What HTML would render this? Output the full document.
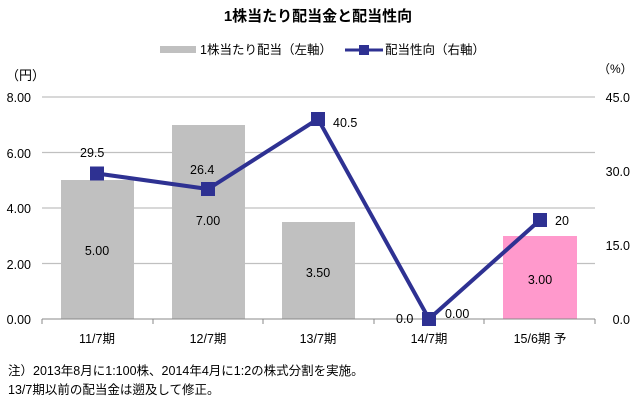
<!DOCTYPE html>
<html><head><meta charset="utf-8"><style>
body{margin:0;background:#fff;}
svg text{font-family:"Liberation Sans","Noto Sans CJK JP",sans-serif;fill:#000;}
</style></head><body>
<svg width="635" height="402" xmlns="http://www.w3.org/2000/svg">
<text x="318" y="21" font-size="15" font-weight="bold" text-anchor="middle">1株当たり配当金と配当性向</text>
<rect x="160" y="46" width="36" height="7" fill="#c0c0c0"/>
<text x="200" y="54" font-size="12.5">1株当たり配当（左軸）</text>
<line x1="345" y1="50" x2="383" y2="50" stroke="#2e3192" stroke-width="3"/>
<rect x="359" y="45" width="10" height="10" fill="#2e3192"/>
<text x="385" y="54" font-size="12.5">配当性向（右軸）</text>
<text x="6" y="80" font-size="13">（円）</text>
<text x="598" y="73" font-size="12">（%）</text>
<g stroke="#c0c0c0" stroke-width="1.3">
<line x1="42" y1="97" x2="595" y2="97"/><line x1="42" y1="152.5" x2="595" y2="152.5"/>
<line x1="42" y1="208" x2="595" y2="208"/><line x1="42" y1="263.5" x2="595" y2="263.5"/>
</g>
<g fill="#c0c0c0">
<rect x="61" y="180" width="73" height="139"/><rect x="172" y="125" width="73" height="194"/>
<rect x="282" y="222" width="73" height="97"/></g>
<rect x="503" y="236" width="74" height="83" fill="#ff99cc"/>
<g stroke="#888" stroke-width="1"><line x1="42" y1="319" x2="595" y2="319"/>
<line x1="42" y1="319" x2="42" y2="324"/><line x1="153" y1="319" x2="153" y2="324"/><line x1="263" y1="319" x2="263" y2="324"/><line x1="374" y1="319" x2="374" y2="324"/><line x1="484" y1="319" x2="484" y2="324"/><line x1="595" y1="319" x2="595" y2="324"/></g>
<g font-size="12.5" text-anchor="end">
<text x="31" y="102">8.00</text><text x="31" y="158">6.00</text><text x="31" y="213">4.00</text><text x="31" y="269">2.00</text><text x="31" y="324">0.00</text></g>
<g font-size="12.5" text-anchor="end">
<text x="630" y="102">45.0</text><text x="630" y="176">30.0</text><text x="630" y="250">15.0</text><text x="630" y="324">0.0</text></g>
<g font-size="12.5" text-anchor="middle">
<text x="97" y="343">11/7期</text><text x="208" y="343">12/7期</text><text x="318" y="343">13/7期</text><text x="429" y="343">14/7期</text><text x="540" y="343">15/6期 予</text>
<text x="97" y="255">5.00</text><text x="208" y="225">7.00</text><text x="318" y="277">3.50</text><text x="540" y="284">3.00</text>
</g>
<polyline points="97,173.5 208,189 318,119 429,319 540,220" fill="none" stroke="#2e3192" stroke-width="4"/>
<g fill="#2e3192"><rect x="90" y="166.5" width="14" height="14"/><rect x="201" y="182" width="14" height="14"/><rect x="311" y="112" width="14" height="14"/><rect x="422" y="312" width="14" height="14"/><rect x="533" y="213" width="14" height="14"/></g>
<g font-size="12.5">
<text x="80" y="157">29.5</text><text x="190" y="174">26.4</text><text x="333" y="127">40.5</text>
<text x="396" y="323">0.0</text><text x="445" y="318">0.00</text><text x="555" y="225">20</text></g>
<text x="8" y="375" font-size="12.5">注）2013年8月に1:100株、2014年4月に1:2の株式分割を実施。</text>
<text x="8" y="394" font-size="12.5">13/7期以前の配当金は遡及して修正。</text>
</svg>
</body></html>
